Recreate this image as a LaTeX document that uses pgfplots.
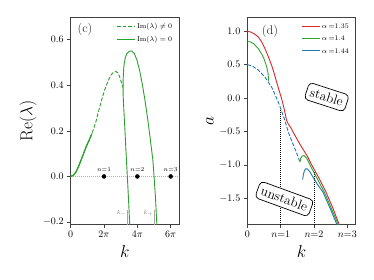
\documentclass[border=0pt]{standalone}
\usepackage{pgfplots}
\pgfplotsset{compat=1.18}
\definecolor{tabred}{HTML}{D62728}
\definecolor{tabgreen}{HTML}{2CA02C}
\definecolor{tabblue}{HTML}{1F77B4}
\newcommand{\legsolid}[1]{\node[inner sep=0pt, anchor=west] at (0cm,0cm) {\textcolor{#1}{\rule[-0.45pt]{0.62cm}{0.9pt}}};}
\newcommand{\legdash}[1]{\node[inner sep=0pt, anchor=west] at (0cm,0cm) {\textcolor{#1}{\rule[-0.45pt]{3.7pt}{0.9pt}\hspace{1.8pt}\rule[-0.45pt]{3.7pt}{0.9pt}\hspace{1.8pt}\rule[-0.45pt]{3.7pt}{0.9pt}\hspace{1.8pt}\rule[-0.45pt]{1.4pt}{0.9pt}}};}
\begin{document}
\begin{tikzpicture}
\useasboundingbox (0,0) rectangle (374pt,280pt);
\pgfplotsset{
  every axis/.append style={
    scale only axis,
    axis line style={black!75, line width=0.6pt},
    tick style={black!75, line width=0.6pt},
    tick align=outside, major tick length=3.5pt,
    xtick pos=bottom, ytick pos=left,
    tick label style={font=\fontsize{10}{12}\selectfont},
    label style={font=\fontsize{16}{18}\selectfont},
    clip=true,
    legend cell align=left,
  }
}
% ---------------- panel (c)
\begin{axis}[at={(70.7pt,55.7pt)}, anchor=south west, width=108.3pt, height=207.3pt,
  xmin=0, xmax=20.42, ymin=-0.21, ymax=0.70,
  xtick={0,6.2832,12.5664,18.8496}, xticklabels={$0$,$2\pi$,$4\pi$,$6\pi$},
  ytick={-0.2,0,0.2,0.4,0.6},
  yticklabel style={/pgf/number format/.cd, fixed, fixed zerofill, precision=1},
  xlabel={$k$}, ylabel={$\mathrm{Re}(\lambda)$},
  xlabel style={at={(axis description cs:0.5,-0.132)}, anchor=center},
  ylabel style={at={(axis description cs:-0.394,0.5)}, anchor=center},
  legend style={draw=none, fill=none, font=\fontsize{7}{8}\selectfont,
    at={(axis description cs:0.985,0.99)}, anchor=north east, row sep=2.5pt},
]
\addlegendimage{legend image code/.code={\legdash{tabgreen}}}
\addlegendentry{$\mathrm{Im}(\lambda)\neq 0$}
\addlegendimage{legend image code/.code={\legsolid{tabgreen}}}
\addlegendentry{$\mathrm{Im}(\lambda)=0$}
\addplot[gray!60, line width=0.6pt, dash pattern=on 1pt off 1pt, forget plot] coordinates {(0,0)(20.42,0)};
\addplot[tabgreen, line width=0.9pt, dash pattern=on 3.7pt off 1.8pt, forget plot] coordinates {
(0,0)(0.5,0.005)(1,0.02)(1.5,0.045)(2,0.075)(2.5,0.105)(3,0.135)(3.5,0.16)(4,0.188)(4.4,0.215)(4.83,0.247)(5.3,0.29)(5.78,0.331)(6.4,0.38)(7.05,0.419)(7.6,0.445)(8.0,0.456)(8.49,0.461)(8.9,0.455)(9.25,0.436)(9.6,0.41)(9.87,0.39)};
\addplot[tabgreen, line width=0.9pt, forget plot] coordinates {
(9.87,0.39)(9.9,0.43)(9.95,0.455)(10.0,0.475)(10.1,0.497)(10.3,0.522)(10.6,0.54)(11.0,0.549)(11.5,0.551)(12.0,0.54)(12.5,0.51)(13.0,0.465)(13.5,0.405)(14.0,0.335)(14.5,0.255)(15.0,0.165)(15.5,0.07)(15.72,0.0)(16.0,-0.1)(16.2,-0.19)(16.3,-0.25)};
\addplot[tabgreen, line width=0.9pt, forget plot] coordinates {
(9.87,0.39)(9.9,0.35)(9.95,0.325)(10.06,0.275)(10.2,0.215)(10.4,0.12)(10.55,0.055)(10.68,0.0)(10.9,-0.1)(11.13,-0.21)(11.2,-0.25)};
\addplot[tabgreen, line width=1.3pt, forget plot] coordinates {
(0,0)(0.5,0.005)(1,0.02)(1.5,0.045)(2,0.075)(2.5,0.105)(3,0.135)(3.5,0.16)(4,0.188)};
\addplot[gray!70, line width=0.5pt, forget plot] coordinates {(10.68,-0.25)(10.68,-0.147)};
\addplot[gray!70, line width=0.5pt, forget plot] coordinates {(15.72,-0.25)(15.72,-0.147)};
\addplot[black, only marks, mark=*, mark size=2pt, forget plot] coordinates {(6.2832,0)(12.5664,0)(18.8496,0)};
\node[font=\fontsize{6.5}{7}\selectfont, anchor=south, inner sep=1pt] at (axis cs:6.2832,0.018) {$n{=}1$};
\node[font=\fontsize{6.5}{7}\selectfont, anchor=south, inner sep=1pt] at (axis cs:12.5664,0.018) {$n{=}2$};
\node[font=\fontsize{6.5}{7}\selectfont, anchor=south, inner sep=1pt] at (axis cs:18.8496,0.018) {$n{=}3$};
\node[font=\fontsize{6.5}{7}\selectfont, text=gray, inner sep=0pt] at (axis cs:9.62,-0.162) {$k_-$};
\node[font=\fontsize{6.5}{7}\selectfont, text=gray, inner sep=0pt] at (axis cs:14.64,-0.162) {$k_+$};
\node[font=\fontsize{12.5}{14}\selectfont, text=black!80] at (axis description cs:0.132,0.941) {(c)};
\end{axis}
% ---------------- panel (d)
\begin{axis}[at={(247.3pt,55.7pt)}, anchor=south west, width=108.4pt, height=207pt,
  xmin=0, xmax=3.25, ymin=-1.89, ymax=1.21,
  xtick={0,1,2,3}, xticklabels={$0$,$n{=}1$,$n{=}2$,$n{=}3$},
  ytick={-1.5,-1,-0.5,0,0.5,1},
  yticklabel style={/pgf/number format/.cd, fixed, fixed zerofill, precision=1},
  xlabel={$k$}, ylabel={$a$},
  xlabel style={at={(axis description cs:0.5,-0.132)}, anchor=center},
  ylabel style={at={(axis description cs:-0.344,0.5)}, anchor=center},
  legend style={draw=none, fill=none, font=\fontsize{7}{8}\selectfont,
    at={(axis description cs:0.985,0.99)}, anchor=north east, row sep=2.2pt},
]
\addlegendimage{legend image code/.code={\legsolid{tabred}}}
\addlegendentry{$\alpha\,{=}$1.35}
\addlegendimage{legend image code/.code={\legsolid{tabgreen}}}
\addlegendentry{$\alpha\,{=}$1.4}
\addlegendimage{legend image code/.code={\legsolid{tabblue}}}
\addlegendentry{$\alpha\,{=}$1.44}
\addplot[black, line width=0.8pt, dash pattern=on 0.8pt off 1.2pt, forget plot] coordinates {(1,-1.95)(1,-0.15)};
\addplot[black, line width=0.8pt, dash pattern=on 0.8pt off 1.2pt, forget plot] coordinates {(2,-1.95)(2,-1.09)};
\addplot[tabred, line width=0.9pt, forget plot] coordinates {
(0,1.0)(0.1,0.99)(0.2,0.965)(0.33,0.916)(0.43,0.84)(0.53,0.74)(0.63,0.62)(0.73,0.49)(0.8,0.38)(0.88,0.24)(0.95,0.12)(1.03,-0.01)(1.1,-0.15)(1.15,-0.27)(1.18,-0.34)(1.22,-0.38)(1.3,-0.44)(1.43,-0.56)(1.6,-0.71)(1.8,-0.87)(1.93,-1.0)(2.15,-1.2)(2.36,-1.41)(2.56,-1.64)(2.76,-1.9)(2.8,-1.95)};
\addplot[tabgreen, line width=0.9pt, forget plot] coordinates {
(0,0.85)(0.1,0.84)(0.2,0.81)(0.33,0.74)(0.43,0.66)(0.5,0.59)(0.58,0.47)(0.62,0.38)(0.64,0.26)};
\addplot[tabblue, line width=0.9pt, dash pattern=on 3.7pt off 1.8pt, forget plot] coordinates {
(0,0.5)(0.15,0.48)(0.33,0.42)(0.53,0.315)(0.73,0.165)(0.93,-0.06)(1.11,-0.31)(1.23,-0.51)(1.33,-0.64)(1.43,-0.76)(1.5,-0.85)(1.58,-0.96)};
\addplot[tabgreen, line width=0.9pt, forget plot] coordinates {
(1.58,-0.96)(1.6,-0.9)(1.64,-0.87)(1.7,-0.86)(1.78,-0.9)(1.86,-0.98)(1.93,-1.05)(2.1,-1.21)(2.31,-1.41)(2.52,-1.65)(2.73,-1.9)(2.77,-1.95)};
\addplot[tabblue, line width=0.9pt, forget plot] coordinates {
(1.66,-1.22)(1.68,-1.15)(1.71,-1.09)(1.75,-1.06)(1.8,-1.06)(1.87,-1.1)(1.93,-1.15)(2.1,-1.29)(2.27,-1.41)(2.49,-1.66)(2.7,-1.91)(2.74,-1.96)};
\node[draw, fill=white, rounded corners=4pt, line width=0.7pt, rotate=-18, inner sep=4pt, font=\fontsize{13.5}{15}\selectfont] at (axis cs:2.38,0.015) {stable};
\node[draw, fill=white, rounded corners=4pt, line width=0.7pt, rotate=-20, inner sep=4pt, font=\fontsize{13.5}{15}\selectfont] at (axis cs:1.11,-1.51) {unstable};
\node[font=\fontsize{12.5}{14}\selectfont, text=black!80] at (axis description cs:0.209,0.930) {(d)};
\end{axis}
\end{tikzpicture}
\end{document}
